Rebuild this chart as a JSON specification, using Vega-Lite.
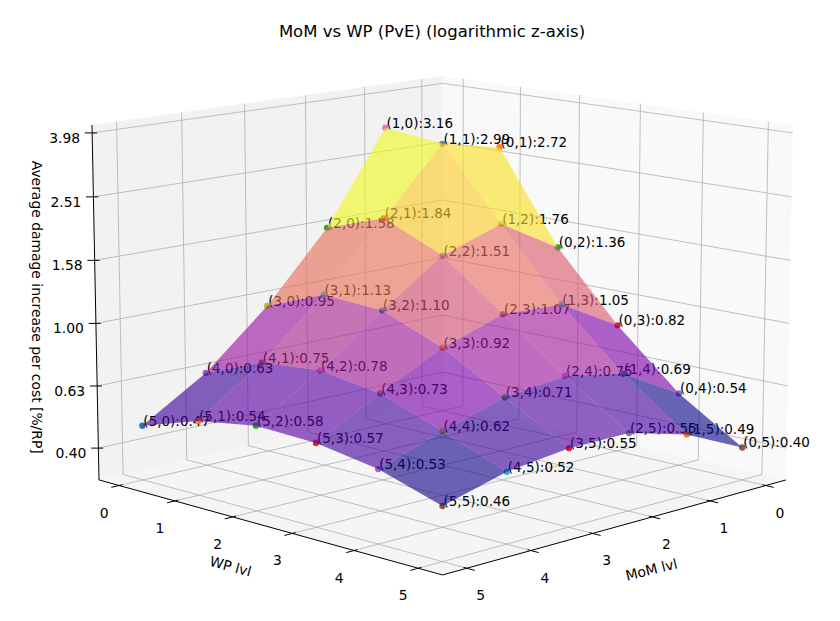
{
  "$schema": "https://vega.github.io/schema/vega-lite/v6.json",
  "width": 840,
  "height": 621,
  "autosize": {"type": "none"},
  "padding": 0,
  "background": "white",
  "params": [
    {"name": "ML", "value": -0.37},
    {"name": "MH", "value": 5.37},
    {"name": "ZL", "value": -0.503},
    {"name": "ZH", "value": 0.625}
  ],
  "title": {
    "text": "MoM vs WP (PvE) (logarithmic z-axis)",
    "font": "DejaVu Sans",
    "fontSize": 16.5,
    "fontWeight": "normal",
    "color": "black",
    "anchor": "middle",
    "frame": "group",
    "baseline": "alphabetic",
    "offset": -53,
    "dx": 12
  },
  "datasets": {
    "pts": [
      {"id": "(1,0)", "mom": 1, "wp": 0, "v": 3.16},
      {"id": "(0,1)", "mom": 0, "wp": 1, "v": 2.72},
      {"id": "(2,0)", "mom": 2, "wp": 0, "v": 1.58},
      {"id": "(1,1)", "mom": 1, "wp": 1, "v": 2.99},
      {"id": "(0,2)", "mom": 0, "wp": 2, "v": 1.36},
      {"id": "(3,0)", "mom": 3, "wp": 0, "v": 0.95},
      {"id": "(2,1)", "mom": 2, "wp": 1, "v": 1.84},
      {"id": "(1,2)", "mom": 1, "wp": 2, "v": 1.76},
      {"id": "(0,3)", "mom": 0, "wp": 3, "v": 0.82},
      {"id": "(4,0)", "mom": 4, "wp": 0, "v": 0.63},
      {"id": "(3,1)", "mom": 3, "wp": 1, "v": 1.13},
      {"id": "(2,2)", "mom": 2, "wp": 2, "v": 1.51},
      {"id": "(1,3)", "mom": 1, "wp": 3, "v": 1.05},
      {"id": "(0,4)", "mom": 0, "wp": 4, "v": 0.54},
      {"id": "(5,0)", "mom": 5, "wp": 0, "v": 0.47},
      {"id": "(4,1)", "mom": 4, "wp": 1, "v": 0.75},
      {"id": "(3,2)", "mom": 3, "wp": 2, "v": 1.10},
      {"id": "(2,3)", "mom": 2, "wp": 3, "v": 1.07},
      {"id": "(1,4)", "mom": 1, "wp": 4, "v": 0.69},
      {"id": "(0,5)", "mom": 0, "wp": 5, "v": 0.40},
      {"id": "(5,1)", "mom": 5, "wp": 1, "v": 0.54},
      {"id": "(4,2)", "mom": 4, "wp": 2, "v": 0.78},
      {"id": "(3,3)", "mom": 3, "wp": 3, "v": 0.92},
      {"id": "(2,4)", "mom": 2, "wp": 4, "v": 0.75},
      {"id": "(1,5)", "mom": 1, "wp": 5, "v": 0.49},
      {"id": "(5,2)", "mom": 5, "wp": 2, "v": 0.58},
      {"id": "(4,3)", "mom": 4, "wp": 3, "v": 0.73},
      {"id": "(3,4)", "mom": 3, "wp": 4, "v": 0.71},
      {"id": "(2,5)", "mom": 2, "wp": 5, "v": 0.55},
      {"id": "(5,3)", "mom": 5, "wp": 3, "v": 0.57},
      {"id": "(4,4)", "mom": 4, "wp": 4, "v": 0.62},
      {"id": "(3,5)", "mom": 3, "wp": 5, "v": 0.55},
      {"id": "(5,4)", "mom": 5, "wp": 4, "v": 0.53},
      {"id": "(4,5)", "mom": 4, "wp": 5, "v": 0.52},
      {"id": "(5,5)", "mom": 5, "wp": 5, "v": 0.46}
    ],
    "ticks": [
      {"ax": "m", "t": 0}, {"ax": "m", "t": 1}, {"ax": "m", "t": 2},
      {"ax": "m", "t": 3}, {"ax": "m", "t": 4}, {"ax": "m", "t": 5},
      {"ax": "w", "t": 0}, {"ax": "w", "t": 1}, {"ax": "w", "t": 2},
      {"ax": "w", "t": 3}, {"ax": "w", "t": 4}, {"ax": "w", "t": 5},
      {"ax": "z", "t": 0.3981}, {"ax": "z", "t": 0.631}, {"ax": "z", "t": 1},
      {"ax": "z", "t": 1.585}, {"ax": "z", "t": 2.512}, {"ax": "z", "t": 3.981}
    ]
  },
  "encoding": {
    "x": {"field": "sx", "type": "quantitative", "scale": {"domain": [0, 840], "nice": false, "zero": false}, "axis": null},
    "y": {"field": "sy", "type": "quantitative", "scale": {"domain": [0, 621], "nice": false, "zero": false, "reverse": true}, "axis": null}
  },
  "layer": [
    {
      "data": {"values": [{"pane": "floor"}, {"pane": "left"}, {"pane": "right"}]},
      "transform": [
        {"calculate": "[0, 1, 2, 3]", "as": "k"},
        {"flatten": ["k"]},
        {"calculate": "datum.pane == 'right' ? ML : ((datum.k == 1 || datum.k == 2) ? MH : ML)", "as": "pm"},
        {"calculate": "datum.pane == 'floor' ? (datum.k >= 2 ? MH : ML) : (datum.pane == 'left' ? ML : ((datum.k == 1 || datum.k == 2) ? MH : ML))", "as": "pw"},
        {"calculate": "datum.pane == 'floor' ? ZL : (datum.k >= 2 ? ZH : ZL)", "as": "pz"},
        {"calculate": "datum.pm + datum.pw - 5", "as": "dd"},
        {"calculate": "1 - 0.0166 * datum.dd - 0.0179 * datum.pz", "as": "den"},
        {"calculate": "442.5 + 60.38 * (datum.pw - datum.pm) / datum.den", "as": "sx"},
        {"calculate": "(323.4 + 7.16 * datum.dd - 319.8 * datum.pz) / datum.den", "as": "sy"}
      ],
      "mark": {"type": "line", "strokeWidth": 0, "strokeOpacity": 0},
      "encoding": {
        "detail": {"field": "pane"},
        "order": {"field": "k", "type": "quantitative"},
        "fill": {
          "field": "pane",
          "type": "nominal",
          "scale": {"domain": ["floor", "left", "right"], "range": ["#f5f5f5", "#f2f2f2", "#f9f9f9"]},
          "legend": null
        }
      }
    },
    {
      "data": {"name": "ticks"},
      "transform": [
        {"calculate": "datum.ax == 'z' ? log(datum.t) / LN10 : datum.t", "as": "pos"},
        {"calculate": "[0, 1]", "as": "pl"},
        {"flatten": ["pl"]},
        {"calculate": "datum.ax == 'm' ? datum.pos : ML", "as": "m1"},
        {"calculate": "datum.ax == 'w' ? datum.pos : ML", "as": "w1"},
        {"calculate": "datum.ax == 'z' ? datum.pos : ZL", "as": "z1"},
        {"calculate": "datum.ax == 'm' ? datum.pos : (datum.pl == 0 ? MH : ML)", "as": "m2"},
        {"calculate": "datum.ax == 'w' ? datum.pos : (datum.ax == 'm' ? (datum.pl == 0 ? MH : ML) : (datum.pl == 0 ? ML : MH))", "as": "w2"},
        {"calculate": "datum.ax == 'z' ? datum.pos : (datum.pl == 0 ? ZL : ZH)", "as": "z2"},
        {"calculate": "1 - 0.0166 * (datum.m1 + datum.w1 - 5) - 0.0179 * datum.z1", "as": "n1"},
        {"calculate": "1 - 0.0166 * (datum.m2 + datum.w2 - 5) - 0.0179 * datum.z2", "as": "n2"},
        {"calculate": "442.5 + 60.38 * (datum.w1 - datum.m1) / datum.n1", "as": "sx"},
        {"calculate": "(323.4 + 7.16 * (datum.m1 + datum.w1 - 5) - 319.8 * datum.z1) / datum.n1", "as": "sy"},
        {"calculate": "442.5 + 60.38 * (datum.w2 - datum.m2) / datum.n2", "as": "sx2"},
        {"calculate": "(323.4 + 7.16 * (datum.m2 + datum.w2 - 5) - 319.8 * datum.z2) / datum.n2", "as": "sy2"}
      ],
      "mark": {"type": "rule", "color": "#b0b0b0", "strokeWidth": 0.8},
      "encoding": {
        "x2": {"field": "sx2"},
        "y2": {"field": "sy2"}
      }
    },
    {
      "data": {"values": [{"ax": "w"}, {"ax": "m"}, {"ax": "z"}]},
      "transform": [
        {"calculate": "datum.ax == 'm' ? ML : MH", "as": "m1"},
        {"calculate": "datum.ax == 'm' ? MH : ML", "as": "w1"},
        {"calculate": "ZL", "as": "z1"},
        {"calculate": "MH", "as": "m2"},
        {"calculate": "datum.ax == 'z' ? ML : MH", "as": "w2"},
        {"calculate": "datum.ax == 'z' ? ZH : ZL", "as": "z2"},
        {"calculate": "1 - 0.0166 * (datum.m1 + datum.w1 - 5) - 0.0179 * datum.z1", "as": "n1"},
        {"calculate": "1 - 0.0166 * (datum.m2 + datum.w2 - 5) - 0.0179 * datum.z2", "as": "n2"},
        {"calculate": "442.5 + 60.38 * (datum.w1 - datum.m1) / datum.n1", "as": "sx"},
        {"calculate": "(323.4 + 7.16 * (datum.m1 + datum.w1 - 5) - 319.8 * datum.z1) / datum.n1", "as": "sy"},
        {"calculate": "442.5 + 60.38 * (datum.w2 - datum.m2) / datum.n2", "as": "sx2"},
        {"calculate": "(323.4 + 7.16 * (datum.m2 + datum.w2 - 5) - 319.8 * datum.z2) / datum.n2", "as": "sy2"}
      ],
      "mark": {"type": "rule", "color": "black", "strokeWidth": 1},
      "encoding": {
        "x2": {"field": "sx2"},
        "y2": {"field": "sy2"}
      }
    },
    {
      "data": {"name": "ticks"},
      "transform": [
        {"calculate": "datum.ax == 'z' ? log(datum.t) / LN10 : datum.t", "as": "pos"},
        {"calculate": "datum.ax == 'z' ? format(datum.t, '.2f') : format(datum.t, 'd')", "as": "lab"}
      ],
      "layer": [
        {
          "transform": [
            {"calculate": "datum.ax == 'w' ? MH - 0.05 : (datum.ax == 'm' ? datum.pos : MH - 0.04)", "as": "m1"},
            {"calculate": "datum.ax == 'w' ? datum.pos : (datum.ax == 'm' ? MH - 0.05 : ML + 0.04)", "as": "w1"},
            {"calculate": "datum.ax == 'w' ? MH + 0.12 : (datum.ax == 'm' ? datum.pos : MH + 0.06)", "as": "m2"},
            {"calculate": "datum.ax == 'w' ? datum.pos : (datum.ax == 'm' ? MH + 0.12 : ML - 0.06)", "as": "w2"},
            {"calculate": "datum.ax == 'z' ? datum.pos : ZL", "as": "zz"},
            {"calculate": "1 - 0.0166 * (datum.m1 + datum.w1 - 5) - 0.0179 * datum.zz", "as": "n1"},
            {"calculate": "1 - 0.0166 * (datum.m2 + datum.w2 - 5) - 0.0179 * datum.zz", "as": "n2"},
            {"calculate": "442.5 + 60.38 * (datum.w1 - datum.m1) / datum.n1", "as": "sx"},
            {"calculate": "(323.4 + 7.16 * (datum.m1 + datum.w1 - 5) - 319.8 * datum.zz) / datum.n1", "as": "sy"},
            {"calculate": "442.5 + 60.38 * (datum.w2 - datum.m2) / datum.n2", "as": "sx2"},
            {"calculate": "(323.4 + 7.16 * (datum.m2 + datum.w2 - 5) - 319.8 * datum.zz) / datum.n2", "as": "sy2"}
          ],
          "mark": {"type": "rule", "color": "black", "strokeWidth": 1},
          "encoding": {
            "x2": {"field": "sx2"},
            "y2": {"field": "sy2"}
          }
        },
        {
          "transform": [
            {"calculate": "datum.ax == 'm' ? datum.pos : MH", "as": "pm"},
            {"calculate": "datum.ax == 'w' ? datum.pos : (datum.ax == 'm' ? MH : ML)", "as": "pw"},
            {"calculate": "datum.ax == 'z' ? datum.pos : ZL", "as": "pz"},
            {"calculate": "1 - 0.0166 * (datum.pm + datum.pw - 5) - 0.0179 * datum.pz", "as": "den"},
            {"calculate": "442.5 + 60.38 * (datum.pw - datum.pm) / datum.den", "as": "sx"},
            {"calculate": "(323.4 + 7.16 * (datum.pm + datum.pw - 5) - 319.8 * datum.pz) / datum.den", "as": "sy"}
          ],
          "layer": [
            {
              "transform": [{"filter": "datum.ax == 'w'"}],
              "mark": {"type": "text", "align": "center", "baseline": "middle", "dx": -15, "dy": 28, "fontSize": 13.9, "color": "black"},
              "encoding": {"text": {"field": "lab"}}
            },
            {
              "transform": [{"filter": "datum.ax == 'm'"}],
              "mark": {"type": "text", "align": "center", "baseline": "middle", "dx": 14, "dy": 28, "fontSize": 13.9, "color": "black"},
              "encoding": {"text": {"field": "lab"}}
            },
            {
              "transform": [{"filter": "datum.ax == 'z'"}],
              "mark": {"type": "text", "align": "right", "baseline": "middle", "dx": -12, "dy": 6, "fontSize": 13.9, "color": "black"},
              "encoding": {"text": {"field": "lab"}}
            }
          ]
        }
      ]
    },
    {
      "data": {"values": [
        {"ax": "w", "txt": "WP lvl"},
        {"ax": "m", "txt": "MoM lvl"},
        {"ax": "z", "txt": "Average damage increase per cost [%/RP]"}
      ]},
      "transform": [
        {"calculate": "datum.ax == 'm' ? (ML + MH) / 2 : MH", "as": "pm"},
        {"calculate": "datum.ax == 'w' ? (ML + MH) / 2 : (datum.ax == 'm' ? MH : ML)", "as": "pw"},
        {"calculate": "datum.ax == 'z' ? (ZL + ZH) / 2 : ZL", "as": "pz"},
        {"calculate": "1 - 0.0166 * (datum.pm + datum.pw - 5) - 0.0179 * datum.pz", "as": "den"},
        {"calculate": "442.5 + 60.38 * (datum.pw - datum.pm) / datum.den", "as": "sx"},
        {"calculate": "(323.4 + 7.16 * (datum.pm + datum.pw - 5) - 319.8 * datum.pz) / datum.den", "as": "sy"}
      ],
      "layer": [
        {
          "transform": [{"filter": "datum.ax == 'w'"}],
          "mark": {"type": "text", "align": "center", "baseline": "middle", "angle": 15, "dx": -20, "dy": 49, "fontSize": 13.9, "color": "black"},
          "encoding": {"text": {"field": "txt"}}
        },
        {
          "transform": [{"filter": "datum.ax == 'm'"}],
          "mark": {"type": "text", "align": "center", "baseline": "middle", "angle": 346, "dx": 17, "dy": 51, "fontSize": 13.9, "color": "black"},
          "encoding": {"text": {"field": "txt"}}
        },
        {
          "transform": [{"filter": "datum.ax == 'z'"}],
          "mark": {"type": "text", "align": "center", "baseline": "middle", "angle": 90, "dx": 3, "dy": 60, "fontSize": 13.9, "color": "black"},
          "encoding": {"text": {"field": "txt"}}
        }
      ]
    },
    {
      "data": {"name": "pts"},
      "layer": [
        {
          "transform": [
            {"calculate": "log(datum.v) / LN10", "as": "pz"},
            {"calculate": "1 - 0.0166 * (datum.mom + datum.wp - 5) - 0.0179 * datum.pz", "as": "den"},
            {"calculate": "442.5 + 60.38 * (datum.wp - datum.mom) / datum.den", "as": "sx"},
            {"calculate": "(323.4 + 7.16 * (datum.mom + datum.wp - 5) - 319.8 * datum.pz) / datum.den", "as": "sy"},
            {"calculate": "datum.id + ':' + format(datum.v, '.2f')", "as": "label"}
          ],
          "layer": [
            {
              "mark": {"type": "text", "align": "left", "baseline": "alphabetic", "dx": 1, "fontSize": 13.5, "color": "black"},
              "encoding": {"text": {"field": "label"}}
            },
            {
              "mark": {"type": "circle", "size": 40, "opacity": 1},
              "encoding": {
                "color": {
                  "field": "id",
                  "type": "nominal",
                  "scale": {"range": ["#ff7f0e", "#2ca02c", "#d62728", "#9467bd", "#8c564b", "#e377c2", "#7f7f7f", "#bcbd22", "#17becf", "#1f77b4"]},
                  "legend": null
                }
              }
            }
          ]
        },
        {
          "transform": [
            {"filter": "datum.mom < 5 && datum.wp < 5"},
            {"calculate": "[0, 1, 2, 3]", "as": "k"},
            {"flatten": ["k"]},
            {"calculate": "datum.mom + ((datum.k == 1 || datum.k == 2) ? 1 : 0)", "as": "pm"},
            {"calculate": "datum.wp + (datum.k >= 2 ? 1 : 0)", "as": "pw"},
            {"calculate": "'(' + datum.pm + ',' + datum.pw + ')'", "as": "key"},
            {"lookup": "key", "from": {"data": {"name": "pts"}, "key": "id", "fields": ["v"]}, "as": ["cv"]},
            {"calculate": "log(datum.cv) / LN10", "as": "pz"},
            {"joinaggregate": [{"op": "mean", "field": "pz", "as": "az"}], "groupby": ["id"]},
            {"calculate": "1 - 0.0166 * (datum.pm + datum.pw - 5) - 0.0179 * datum.pz", "as": "den"},
            {"calculate": "442.5 + 60.38 * (datum.pw - datum.pm) / datum.den", "as": "sx"},
            {"calculate": "(323.4 + 7.16 * (datum.pm + datum.pw - 5) - 319.8 * datum.pz) / datum.den", "as": "sy"}
          ],
          "mark": {"type": "line", "strokeWidth": 0, "strokeOpacity": 0, "fillOpacity": 0.62},
          "encoding": {
            "detail": {"field": "id"},
            "order": {"field": "k", "type": "quantitative"},
            "fill": {"field": "az", "type": "quantitative", "scale": {"scheme": "plasma"}, "legend": null}
          }
        }
      ]
    }
  ],
  "config": {
    "view": {"stroke": null},
    "text": {"font": "DejaVu Sans"}
  }
}
